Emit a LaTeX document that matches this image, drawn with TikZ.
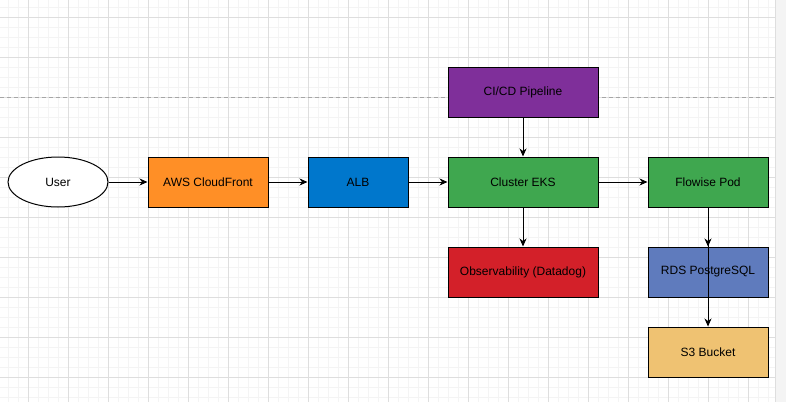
\documentclass[tikz,border=0pt]{standalone}
\usepackage{fontspec}
\setmainfont{Liberation Sans}
\usetikzlibrary{arrows.meta,shapes.geometric}
\definecolor{gmajor}{HTML}{DEDEDE}
\definecolor{gminor}{HTML}{F4F4F4}
\definecolor{cforange}{HTML}{FF8F26}
\definecolor{albblue}{HTML}{0077CC}
\definecolor{eksgreen}{HTML}{3FA74F}
\definecolor{cipurple}{HTML}{7F2F9A}
\definecolor{obsred}{HTML}{D32029}
\definecolor{rdsblue}{HTML}{5F7BBD}
\definecolor{s3gold}{HTML}{EFC272}
\tikzset{
  box/.style={draw=black, line width=1pt, rectangle, minimum height=50pt, inner sep=0pt, font=\fontsize{12}{14}\selectfont},
  conn/.style={draw=black, line width=1pt, -{Stealth[length=8pt,width=7pt,inset=2.5pt]}},
}
\begin{document}
\begin{tikzpicture}[x=1pt,y=-1pt]
\useasboundingbox (0,0) rectangle (786,402);
\fill[white] (0,0) rectangle (786,402);
% minor grid
\foreach \x in {8,18,...,768} \draw[gminor, line width=1pt] (\x,0) -- (\x,402);
\foreach \y in {7,17,...,397} \draw[gminor, line width=1pt] (0,\y) -- (775,\y);
% major grid
\foreach \x in {28,68,...,748} \draw[gmajor, line width=1pt] (\x,0) -- (\x,402);
\foreach \y in {17,57,...,377} \draw[gmajor, line width=1pt] (0,\y) -- (775,\y);
% right strip
\fill[gminor] (775,0) rectangle (786,402);
\draw[gmajor, line width=1pt] (775,0) -- (775,402);
% dashed line
\draw[black!35, line width=0.8pt, dash pattern=on 4pt off 3pt] (0,97) -- (775,97);

\node[draw=black, line width=1pt, fill=white, ellipse, minimum width=100pt, minimum height=50pt, inner sep=0pt, font=\fontsize{12}{14}\selectfont] (user) at (58,182) {User};
\node[box, fill=cforange, minimum width=120pt] (cf) at (208,182) {AWS CloudFront};
\node[box, fill=albblue, minimum width=100pt] (alb) at (358,182) {ALB};
\node[box, fill=eksgreen, minimum width=150pt] (eks) at (523,182) {Cluster EKS};
\node[box, fill=cipurple, minimum width=150pt] (ci) at (523,92) {CI/CD Pipeline};
\node[box, fill=obsred, minimum width=150pt] (obs) at (523,272) {Observability (Datadog)};
\node[box, fill=eksgreen, minimum width=120pt] (pod) at (708,182) {Flowise Pod};
\node[box, fill=rdsblue, minimum width=120pt] (rds) at (708,272) {RDS PostgreSQL};
\node[box, fill=s3gold, minimum width=120pt] (s3) at (708,352) {S3 Bucket};

\draw[conn] (user) -- (cf);
\draw[conn] (cf) -- (alb);
\draw[conn] (alb) -- (eks);
\draw[conn] (ci) -- (eks);
\draw[conn] (eks) -- (obs);
\draw[conn] (eks) -- (pod);
\draw[conn] (pod) -- (rds);
\draw[conn] (pod.south) -- (s3.north);
\end{tikzpicture}
\end{document}
